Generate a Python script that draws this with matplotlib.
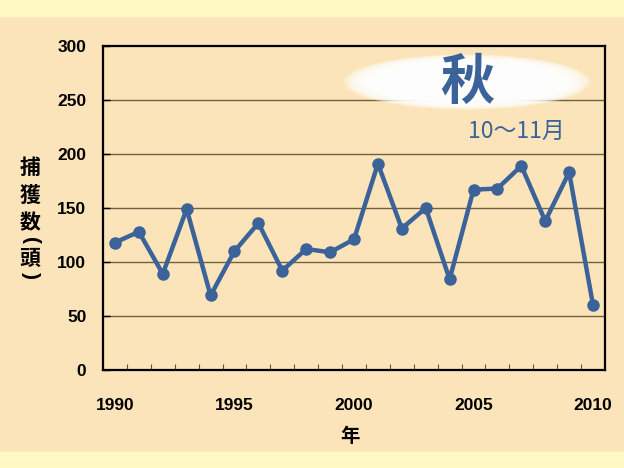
#!/usr/bin/env python3
import matplotlib.pyplot as plt
from matplotlib.patches import Ellipse, Rectangle
import numpy as np

years = list(range(1990, 2011))
catch = [118, 128, 89, 149, 69, 110, 136, 92, 112, 109, 121,
         191, 131, 150, 84, 167, 168, 189, 138, 183, 60]
yticks = [0, 50, 100, 150, 200, 250, 300]
xticks = [1990, 1995, 2000, 2005, 2010]
ylabel_chars = ['捕', '獲', '数', '(', '頭', ')']

bg = '#FBE4B9'
band = '#FFF9C4'
blue = '#3B6299'
cjk = ['Noto Sans CJK JP', 'DejaVu Sans']


def main():
    fig = plt.figure(figsize=(6.24, 4.68), dpi=100, facecolor=bg)
    # light bands top and bottom
    fig.patches.append(Rectangle((0, 1 - 16 / 468), 1, 16 / 468, transform=fig.transFigure,
                                 color=band, zorder=0))
    fig.patches.append(Rectangle((0, 0), 1, 16 / 468, transform=fig.transFigure,
                                 color=band, zorder=0))

    ax = fig.add_axes([103 / 624, 98 / 468, 502 / 624, 324 / 468])
    ax.set_facecolor(bg)

    ax.plot(years, catch, color=blue, lw=3.2, marker='o', ms=8, zorder=5,
            solid_capstyle='round')

    ax.set_xlim(1989.5, 2010.5)
    ax.set_ylim(0, 300)
    ax.set_yticks(yticks)
    ax.set_xticks(xticks)
    ax.set_xticks(np.arange(1990.5, 2010, 1), minor=True)
    ax.tick_params(axis='x', which='major', length=0, pad=20)
    ax.tick_params(axis='x', which='minor', direction='in', length=4, width=0.8, color='#555555')
    ax.tick_params(axis='y', direction='in', length=5, width=1, pad=12)
    for lab in ax.get_xticklabels() + ax.get_yticklabels():
        lab.set_fontfamily('Liberation Sans')
        lab.set_fontweight('bold')
        lab.set_fontsize(12.5)

    for v in yticks[1:-1]:
        ax.axhline(v, color='#6f6048', lw=1, zorder=1)
    for s in ax.spines.values():
        s.set_linewidth(1.6)
        s.set_color('black')

    # blurred white ellipse behind the season title
    n = 12
    for i in range(n):
        f = 1 - i * 0.03
        ax.add_patch(Ellipse((0.725, 0.889), 0.49 * f, 0.17 * f, transform=ax.transAxes,
                             facecolor='white', edgecolor='none', alpha=0.35, zorder=2))
    ax.text(0.725, 0.885, '秋', transform=ax.transAxes, ha='center', va='center',
            fontsize=39, fontweight='bold', color=blue, family=cjk, zorder=3)
    ax.text(0.823, 0.735, '10〜11月', transform=ax.transAxes, ha='center', va='center',
            fontsize=16.5, color=blue, family=cjk, zorder=3)

    # vertical y label, one character at a time (brackets turned sideways)
    ypos = [167, 195, 223, 241, 258, 275]
    for ch, yp in zip(ylabel_chars, ypos):
        rot = -90 if ch in '()' else 0
        fam = ['Liberation Sans'] if ch in '()' else cjk
        fig.text(30 / 624, 1 - yp / 468, ch, ha='center', va='center', rotation=rot,
                 fontsize=15, fontweight='bold', family=fam)
    fig.text(350 / 624, 1 - 437 / 468, '年', ha='center', va='center',
             fontsize=14, fontweight='bold', family=cjk)

    fig.savefig('out.png', dpi=100, facecolor=bg)


if __name__ == "__main__":
    main()
